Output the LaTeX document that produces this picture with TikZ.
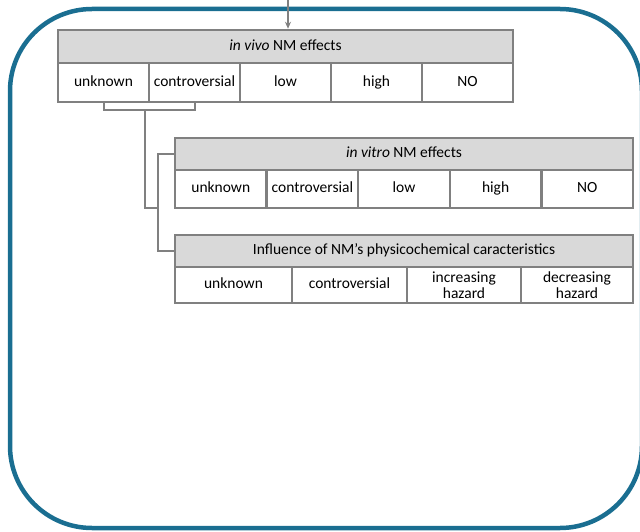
\documentclass[tikz,border=0pt]{standalone}
\usepackage{fontspec}
\setmainfont{Carlito}
\usepackage{tikz}
\usetikzlibrary{arrows.meta, positioning, calc}
\usepackage{xcolor}
\definecolor{framing}{RGB}{26,110,145}
\definecolor{cellline}{RGB}{128,128,128}
\definecolor{headfill}{RGB}{217,217,217}

\tikzset{
  cell/.style={draw=cellline, line width=2.5pt, fill=white, inner sep=0pt, align=center,
    font=\fontsize{15.5}{15.5}\selectfont},
  word/.style={cell, text height=10.5pt, text depth=3pt},
  head/.style={word, fill=headfill},
  conn/.style={draw=cellline, line width=2pt}
}

\begin{document}
\begin{tikzpicture}[x=1pt, y=-1pt]
  \useasboundingbox (0,0) rectangle (640,532);
  % outer frame
  \draw[framing, line width=4.5pt, rounded corners=82pt] (10,9) rectangle (642,528);

  % in vivo table
  \node[head, minimum width=455pt, minimum height=33pt] (vivo) at (285.5, 46.5) {\textit{in vivo} NM effects};
  \node[word, minimum width=91pt, minimum height=39pt] (u1) at (103.5, 82.5) {unknown};
  \node[word, minimum width=91pt, minimum height=39pt] (c1) at (194.5, 82.5) {controversial};
  \node[word, minimum width=91pt, minimum height=39pt] (l1) at (285.5, 82.5) {low};
  \node[word, minimum width=91pt, minimum height=39pt] (h1) at (376.5, 82.5) {high};
  \node[word, minimum width=91pt, minimum height=39pt] (n1) at (467.5, 82.5) {NO};

  % in vitro table
  \node[head, minimum width=458pt, minimum height=32pt] (vitro) at (404, 154) {\textit{in vitro} NM effects};
  \node[word, minimum width=91.6pt, minimum height=38pt] (u2) at (220.8, 189) {unknown};
  \node[word, minimum width=91.6pt, minimum height=38pt] (c2) at (312.4, 189) {controversial};
  \node[word, minimum width=91.6pt, minimum height=38pt] (l2) at (404, 189) {low};
  \node[word, minimum width=91.6pt, minimum height=38pt] (h2) at (495.6, 189) {high};
  \node[word, minimum width=91.6pt, minimum height=38pt] (n2) at (587.2, 189) {NO};

  % physicochemical table
  \node[head, minimum width=458pt, minimum height=32pt] (infl) at (404, 251) {Influence of NM’s physicochemical caracteristics};
  \node[word, minimum width=117pt, minimum height=36pt] (u3) at (233.5, 285) {unknown};
  \node[word, minimum width=115pt, minimum height=36pt] (c3) at (349.5, 285) {controversial};
  \node[cell, minimum width=114pt, minimum height=36pt] (i3) at (464, 285) {increasing\\hazard};
  \node[cell, minimum width=112pt, minimum height=36pt] (d3) at (577, 285) {decreasing\\hazard};

  % connectors
  \coordinate (entry) at (288, 0);
  \coordinate (split) at (145, 110);
  \coordinate (fork) at (158, 208);
  \draw[conn, -{Stealth[length=7pt, width=6pt]}] (entry) -- (entry |- vivo.north);
  \draw[conn] (u1.south) |- (split) -| (c1.south);
  \draw[conn] (split) |- (fork);
  \draw[conn] (vitro.west) -| (fork) |- (infl.west);
\end{tikzpicture}
\end{document}
